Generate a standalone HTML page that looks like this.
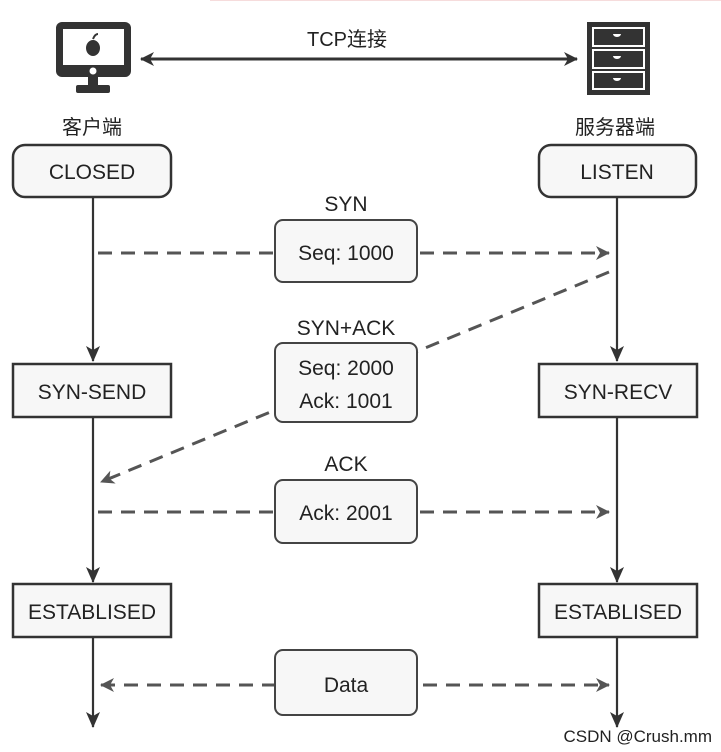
<!DOCTYPE html>
<html><head><meta charset="utf-8"><style>
html,body{margin:0;padding:0;background:#fff;}
svg{display:block;}
text{font-family:"Liberation Sans","Noto Sans CJK SC",sans-serif;fill:#222;}
</style></head><body>
<svg width="721" height="752" viewBox="0 0 721 752" xmlns="http://www.w3.org/2000/svg">
<defs>
<marker id="a" markerWidth="14" markerHeight="16" refX="7" refY="15" orient="0" markerUnits="userSpaceOnUse"><path d="M0,0 L7,4 L14,0 L7,16 Z" fill="#333"/></marker>
<marker id="g" markerWidth="14" markerHeight="14" refX="13" refY="7" orient="auto" markerUnits="userSpaceOnUse"><path d="M0,0 L14,7 L0,14 L4,7 Z" fill="#555"/></marker>
<marker id="gs" markerWidth="14" markerHeight="14" refX="1" refY="7" orient="auto" markerUnits="userSpaceOnUse"><path d="M14,0 L0,7 L14,14 L10,7 Z" fill="#555"/></marker>
<marker id="t" markerWidth="14" markerHeight="14" refX="13" refY="7" orient="auto" markerUnits="userSpaceOnUse"><path d="M0,0 L14,7 L0,14 L4,7 Z" fill="#333"/></marker>
<marker id="ts" markerWidth="14" markerHeight="14" refX="1" refY="7" orient="auto" markerUnits="userSpaceOnUse"><path d="M14,0 L0,7 L14,14 L10,7 Z" fill="#333"/></marker>
</defs>
<line x1="210" y1="0.5" x2="721" y2="0.5" stroke="#f6dcdc" stroke-width="1"/>
<!-- monitor -->
<rect x="56" y="22" width="75" height="55" rx="6" fill="#333"/>
<rect x="63" y="29" width="61" height="36" fill="#fff"/>
<circle cx="93" cy="71" r="3.5" fill="#fff"/>
<ellipse cx="93" cy="48" rx="7" ry="8" fill="#333"/>
<path d="M93,39 q2,-5 5,-5" stroke="#333" stroke-width="2" fill="none"/>
<rect x="88" y="77" width="10" height="9" fill="#333"/>
<rect x="76" y="85" width="34" height="8" rx="2" fill="#333"/>
<!-- server -->
<rect x="587" y="22" width="63" height="73" fill="#333"/>
<rect x="592" y="27" width="53" height="20" fill="#fff"/>
<rect x="594" y="29" width="49" height="16" fill="#333"/>
<rect x="592" y="49" width="53" height="20" fill="#fff"/>
<rect x="594" y="51" width="49" height="16" fill="#333"/>
<rect x="592" y="71" width="53" height="19" fill="#fff"/>
<rect x="594" y="73" width="49" height="15" fill="#333"/>
<path d="M613,34 h8 a4,3 0 0 1 -8,0Z M613,56 h8 a4,3 0 0 1 -8,0Z M613,78 h8 a4,3 0 0 1 -8,0Z" fill="#fff"/>
<line x1="141" y1="59" x2="577" y2="59" stroke="#333" stroke-width="3" marker-start="url(#ts)" marker-end="url(#t)"/>
<text x="347" y="46" font-size="20" text-anchor="middle">TCP连接</text>
<text x="92" y="134" font-size="20" text-anchor="middle" fill="#444">客户端</text>
<text x="615" y="134" font-size="20" text-anchor="middle" fill="#444">服务器端</text>
<!-- lifelines -->
<g stroke="#333" stroke-width="2.2">
<line x1="93" y1="197" x2="93" y2="361" marker-end="url(#a)"/>
<line x1="93" y1="417" x2="93" y2="582" marker-end="url(#a)"/>
<line x1="93" y1="637" x2="93" y2="727" marker-end="url(#a)"/>
<line x1="617" y1="197" x2="617" y2="361" marker-end="url(#a)"/>
<line x1="617" y1="417" x2="617" y2="582" marker-end="url(#a)"/>
<line x1="617" y1="637" x2="617" y2="727" marker-end="url(#a)"/>
</g>
<!-- state boxes -->
<g stroke="#333" stroke-width="2.5" fill="#f7f7f7">
<rect x="13" y="145" width="158" height="52" rx="12"/>
<rect x="539" y="145" width="157" height="52" rx="12"/>
<rect x="13" y="364" width="158" height="53"/>
<rect x="539" y="364" width="158" height="53"/>
<rect x="13" y="584" width="158" height="53"/>
<rect x="539" y="584" width="158" height="53"/>
</g>
<g font-size="21" text-anchor="middle">
<text x="92" y="179">CLOSED</text>
<text x="617" y="179">LISTEN</text>
<text x="92" y="399">SYN-SEND</text>
<text x="618" y="399">SYN-RECV</text>
<text x="92" y="619">ESTABLISED</text>
<text x="618" y="619">ESTABLISED</text>
</g>
<!-- dashed messages -->
<g stroke="#555" stroke-width="3" stroke-dasharray="14,9" fill="none">
<line x1="98" y1="253" x2="609" y2="253" marker-end="url(#g)"/>
<line x1="609" y1="272" x2="101" y2="482" marker-end="url(#g)"/>
<line x1="98" y1="512" x2="609" y2="512" marker-end="url(#g)"/>
<line x1="101" y1="685" x2="609" y2="685" marker-start="url(#gs)" marker-end="url(#g)"/>
</g>
<g stroke="#444" stroke-width="2" fill="#f7f7f7">
<rect x="275" y="220" width="142" height="62" rx="8"/>
<rect x="275" y="343" width="142" height="79" rx="8"/>
<rect x="275" y="480" width="142" height="63" rx="8"/>
<rect x="275" y="650" width="142" height="65" rx="8"/>
</g>
<g font-size="21" text-anchor="middle">
<text x="346" y="211">SYN</text>
<text x="346" y="260">Seq: 1000</text>
<text x="346" y="335">SYN+ACK</text>
<text x="346" y="375">Seq: 2000</text>
<text x="346" y="408">Ack: 1001</text>
<text x="346" y="471">ACK</text>
<text x="346" y="520">Ack: 2001</text>
<text x="346" y="692">Data</text>
</g>
<text x="712" y="742" font-size="17" text-anchor="end" fill="#777">CSDN @Crush.mm</text>
</svg>
</body></html>
